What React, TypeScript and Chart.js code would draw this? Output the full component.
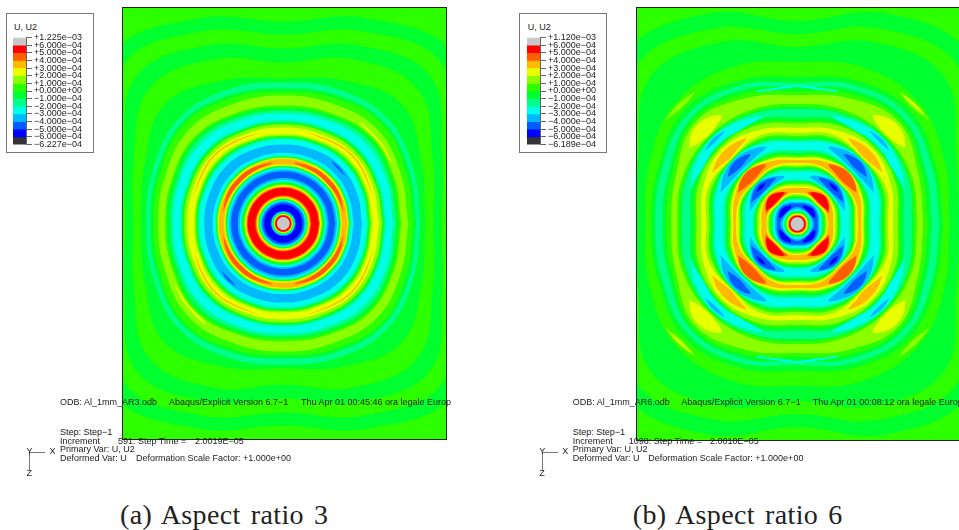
import React, { useEffect, useRef } from "react";
import { Chart, registerables } from "chart.js";

Chart.register(...registerables);

const levelColors = ["#c8c8c8", "#ff0000", "#ff5d00", "#ffb900", "#e8ff00", "#8bff00", "#2eff00", "#00ff2e", "#00ff8b", "#00ffe8", "#00b9ff", "#005dff", "#0000ff", "#333333"];
const tickLabelsA = ["+1.225e\u221203", "+6.000e\u221204", "+5.000e\u221204", "+4.000e\u221204", "+3.000e\u221204", "+2.000e\u221204", "+1.000e\u221204", "+0.000e+00", "\u22121.000e\u221204", "\u22122.000e\u221204", "\u22123.000e\u221204", "\u22124.000e\u221204", "\u22125.000e\u221204", "\u22126.000e\u221204", "\u22126.227e\u221204"];
const tickLabelsB = ["+1.120e\u221203", "+6.000e\u221204", "+5.000e\u221204", "+4.000e\u221204", "+3.000e\u221204", "+2.000e\u221204", "+1.000e\u221204", "+0.000e+00", "\u22121.000e\u221204", "\u22122.000e\u221204", "\u22123.000e\u221204", "\u22124.000e\u221204", "\u22125.000e\u221204", "\u22126.000e\u221204", "\u22126.189e\u221204"];

// contour rows: [level, radius at 0deg, 22.5deg, 45deg, 67.5deg, 90deg] (short rows are symmetric or circular)
const ringsA: number[][] = [
  [6, 400],
  [7, 172, 185, 240, 222, 202], [6, 165, 176, 225, 208, 189], [7, 158, 172, 208, 193, 175], [6, 150, 162, 190, 178, 161],
  [7, 142, 150, 168, 155, 145], [8, 137, 141, 148, 145, 141], [7, 133, 136.5, 143, 139, 135], [6, 130, 133, 140, 135.5, 132],
  [5, 125, 127.5, 133, 129.5, 128], [6, 118, 120, 124, 120, 118], [7, 116, 118, 122, 118, 115], [8, 113, 115, 119, 115, 113],
  [9, 110, 112, 115, 112, 110], [8, 103, 104, 106.5], [7, 101, 102, 104.5], [6, 100, 101, 103], [5, 99, 100, 102],
  [4, 96, 97, 99], [5, 89, 90, 92], [6, 87.5, 88.5, 90], [7, 86.5, 87.3, 88.5], [8, 85.5, 86.2, 87.3], [9, 84, 84.7, 85.8],
  [10, 79, 79.7, 81], [9, 70.5, 70.8, 71.5], [8, 67.5, 67.8, 68.5], [7, 66.8, 67, 67.6], [6, 66.3, 66.5, 67], [5, 65.8, 66, 66.4], [4, 65.2, 65.4, 65.8], [3, 64.5],
  [4, 59], [5, 58], [6, 57.5], [7, 57], [8, 56.5], [9, 55.5], [10, 54], [11, 52], [10, 45.5], [9, 43.5], [8, 42], [7, 41], [6, 40], [5, 39], [4, 38],
  [3, 37], [2, 36.5], [1, 35.5], [2, 28], [3, 27], [4, 26], [5, 25.3], [6, 24.7], [7, 24.2], [8, 23.7], [9, 23], [10, 22.2],
  [11, 21], [12, 19], [11, 12.6], [10, 12], [9, 11.3], [8, 10.8], [7, 10.4], [6, 10], [5, 9.6], [4, 9.2], [3, 8.8], [2, 8.4], [1, 8], [0, 6.4],
];
const ringsB: number[][] = [
  [6, 400],
  [7, 190, 200, 242, 228, 203], [6, 176, 186, 226, 212, 190], [7, 162, 172, 208, 197, 177], [6, 152, 160, 172, 170, 162],
  [7, 146, 150, 160, 155, 147], [8, 142, 146, 155, 150, 141], [7, 135, 139, 150, 145, 137], [6, 131, 135, 147, 141, 133],
  [5, 126, 131, 144, 136, 129], [6, 120, 124, 124.5, 123, 120], [7, 117, 121, 123, 120, 117], [8, 115, 120, 122, 119, 115],
  [7, 106.7, 112, 111], [6, 103, 108.5, 110], [5, 100.7, 106.5, 108.5], [4, 96, 101.5, 106.5], [5, 91, 96, 92.5], [6, 88, 93, 92],
  [7, 86, 91, 91.5], [8, 84, 89, 91], [9, 82, 87, 90.5], [8, 74, 77, 75.5], [7, 71, 75, 74.5], [6, 69, 73, 74], [5, 67, 71, 73.5],
  [4, 66, 70, 73], [3, 64, 68, 72.5], [4, 61, 62.5, 60], [5, 58.5, 61, 59], [6, 57, 60, 58.5], [7, 56, 59, 58], [8, 54.5, 57.5, 57.5],
  [9, 52, 55, 57], [8, 44.5, 45, 44], [7, 43, 44, 43], [6, 41.5, 43, 42.5], [5, 40, 41.5, 42], [4, 38, 40, 41], [3, 36, 38, 40.5],
  [4, 31, 31, 28.5], [5, 30, 29.5, 27.5], [6, 28, 28.5, 27], [7, 26.5, 27.5, 26.5], [8, 25.5, 26.5, 26], [9, 24, 25.5, 25.5],
  [10, 22, 23.3, 24.5], [11, 20.5, 21.7, 23], [10, 17, 16, 15.5], [9, 15, 14.5, 14.5], [8, 13, 13.3, 13.5], [7, 12, 12.5, 12.5],
  [6, 11.3, 11.7, 11.7], [5, 10.5, 11, 11], [4, 10, 10.3, 10.3], [3, 9.3, 9.6, 9.6], [2, 8.8, 9, 9], [1, 8.3, 8.4, 8.4], [0, 6.7],
];

// local patches: [level, quadrants (4 = all, 2 = upper right and lower left), angle, radius, angle, radius, ...]
const patchesA: number[][] = [
  [2, 4, 10, 61.5, 28, 63.5, 45, 64, 62, 63.5, 80, 61.5, 62, 60, 45, 59.5, 28, 60],
  [3, 4, 15, 94, 32, 96, 45, 97.5, 58, 96, 75, 94, 58, 94.5, 45, 96, 32, 94.5],
  [11, 2, 37, 78, 45, 79.5, 52, 78.5, 45, 77],
  [4, 2, 30, 125, 40, 127, 52, 127.5, 52, 126, 40, 125, 30, 124],
];
const patchesB: number[][] = [
  [5, 4, 38, 168, 45, 169, 52, 167, 45, 164],
  [4, 2, 40, 167.5, 45, 168, 51, 166.5, 45, 166],
  [9, 4, 73, 139.5, 90, 139, 90, 137.5, 73, 138],
  [4, 4, 35, 132, 40, 139, 45, 141, 50, 139, 55, 132, 50, 127, 45, 125.5, 40, 127],
  [9, 4, 18, 113, 30, 118, 45, 121, 60, 118, 72, 113, 60, 110, 45, 112, 30, 110],
  [10, 4, 38, 118, 45, 120, 52, 118, 45, 116],
  [3, 4, 31, 99.5, 38, 102.5, 45, 103.5, 52, 102.5, 59, 99.5, 52, 96, 45, 94, 38, 96],
  [10, 4, 22, 83, 34, 88.5, 45, 90, 56, 88.5, 68, 83, 56, 78.5, 45, 77.5, 34, 78.5],
  [11, 4, 34, 84, 40, 87.5, 45, 88.5, 50, 87.5, 56, 84, 50, 81, 45, 80, 40, 81],
  [2, 4, 28, 67, 36, 71, 45, 72.5, 54, 71, 62, 67, 54, 63.5, 45, 62, 36, 63.5],
  [10, 4, 15, 49, 30, 54, 45, 57, 60, 54, 75, 49, 60, 46, 45, 45.5, 30, 46],
  [11, 4, 25, 51, 35, 54, 45, 55.5, 55, 54, 65, 51, 55, 47.5, 45, 46.5, 35, 47.5],
  [12, 4, 38, 52, 45, 53.5, 52, 52, 45, 50],
  [2, 4, 18, 33, 32, 37.5, 45, 39.5, 58, 37.5, 72, 33, 58, 30.5, 45, 29.5, 32, 30.5],
  [1, 4, 23, 34, 34, 37, 45, 39, 56, 37, 67, 34, 56, 31, 45, 30.5, 34, 31],
  [12, 4, 18, 19, 30, 20.5, 45, 21.5, 60, 20.5, 72, 19, 60, 16.5, 45, 16, 30, 16.5],
];

const rad = (d: number) => (d * Math.PI) / 180;
const polar = (angle: number, r: number) => ({ x: r * Math.cos(rad(angle)), y: r * Math.sin(rad(angle)) });

function ringPoints(row: number[]) {
  const v = row.slice(1);
  const q = v.length === 1 ? [v[0], v[0], v[0], v[0], v[0]] : v.length === 3 ? [v[0], v[1], v[2], v[1], v[0]] : v;
  const radii = [...q, q[3], q[2], q[1], q[0], q[1], q[2], q[3], q[4], q[3], q[2], q[1], q[0]];
  return radii.map((r, i) => polar(i * 22.5, r));
}

function patchDatasets(row: number[]) {
  const [level, quadrants] = row;
  const pairs: number[][] = [];
  for (let i = 2; i < row.length; i += 2) pairs.push([row[i], row[i + 1]]);
  const maps = quadrants === 4
    ? [(a: number) => a, (a: number) => 180 - a, (a: number) => 180 + a, (a: number) => 360 - a]
    : [(a: number) => a, (a: number) => 180 + a];
  return maps.map((m) => {
    const pts = pairs.map(([a, r]) => polar(m(a), r));
    return shape(level, [...pts, pts[0]]);
  });
}

function shape(level: number, data: { x: number; y: number }[]) {
  return { data, backgroundColor: levelColors[level], showLine: true, tension: 0.4, capBezierPoints: false, pointRadius: 0, borderWidth: 0 };
}

const fillShape = {
  id: "fillShape",
  beforeDatasetDraw(chart: any, args: any) {
    const line = args.meta.dataset;
    const { ctx, chartArea: a } = chart;
    ctx.save();
    ctx.beginPath();
    ctx.rect(a.left, a.top, a.right - a.left, a.bottom - a.top);
    ctx.clip();
    line.updateControlPoints(a, "x");
    ctx.beginPath();
    line.path(ctx);
    ctx.closePath();
    ctx.fillStyle = chart.data.datasets[args.index].backgroundColor;
    ctx.fill();
    ctx.restore();
    return false;
  },
};

function Contour({ rings, patches, left, top, width, height, xMin, xMax, yMin, yMax }: any) {
  const ref = useRef<HTMLCanvasElement>(null);
  useEffect(() => {
    // Chart.js paints the last dataset first, so the innermost shapes come first here.
    const outsideIn = [
      ...rings.map((r: number[]) => shape(r[0], ringPoints(r))),
      ...patches.flatMap(patchDatasets),
    ];
    const chart = new Chart(ref.current!, {
      type: "scatter",
      plugins: [fillShape],
      data: { datasets: outsideIn.reverse() },
      options: {
        animation: false, responsive: false, events: [],
        layout: { padding: 0 },
        plugins: { legend: { display: false }, tooltip: { enabled: false } },
        scales: {
          x: { type: "linear", display: false, min: xMin, max: xMax },
          y: { type: "linear", display: false, min: yMin, max: yMax },
        },
      },
    } as any);
    return () => chart.destroy();
  }, []);
  return (
    <>
      <canvas ref={ref} width={width} height={height} style={{ position: "absolute", left, top, width, height }} />
      <div style={{ position: "absolute", left, top, width: width - 1, height: height - 1, border: "1px solid #222", borderRightWidth: 1 }} />
    </>
  );
}

function LegendBar({ labels, left, top }: { labels: string[]; left: number; top: number }) {
  const ref = useRef<HTMLCanvasElement>(null);
  useEffect(() => {
    const chart = new Chart(ref.current!, {
      type: "bar",
      data: {
        labels: ["U2"],
        datasets: levelColors.map((c) => ({ data: [1], backgroundColor: c, borderWidth: 0, barPercentage: 1, categoryPercentage: 1 })),
      },
      options: {
        animation: false, responsive: false, events: [],
        layout: { padding: { top: 2, bottom: 2, left: 0, right: 0 } },
        plugins: { legend: { display: false }, tooltip: { enabled: false } },
        scales: {
          x: { stacked: true, display: false },
          y: {
            stacked: true, position: "right", reverse: true, min: 0, max: 14,
            afterFit: (s: any) => { s.width = 68; },
            grid: { drawOnChartArea: false, tickLength: 6, color: "#666", tickWidth: 1 },
            border: { color: "#666" },
            ticks: {
              stepSize: 1, autoSkip: false, padding: 2, color: "#222",
              font: { family: "Liberation Sans", size: 9 },
              callback: (v: any) => labels[v],
            },
          },
        },
      },
    } as any);
    return () => chart.destroy();
  }, []);
  return <canvas ref={ref} width={81} height={122} style={{ position: "absolute", left, top, width: 81, height: 122 }} />;
}

const sans: React.CSSProperties = { position: "absolute", font: "9px/10px 'Liberation Sans'", color: "#222", whiteSpace: "pre" };

function T({ x, y, w, children }: { x: number; y: number; w?: number; children: React.ReactNode }) {
  return <div style={{ ...sans, left: x, top: y - 5, width: w, overflow: w ? "hidden" : undefined }}>{children}</div>;
}

function Panel(p: any) {
  const d = p.textX - 60;
  return (
    <>
      <Contour {...p.contour} />
      <div style={{ position: "absolute", left: p.boxX, top: 13, width: 86, height: 138, background: "#fff", border: "1px solid #777" }} />
      <T x={p.swatchX + 1} y={26.5}>U, U2</T>
      <LegendBar labels={p.labels} left={p.swatchX} top={p.legendTop} />
      <T x={p.textX} y={401.7}>{p.odb}</T>
      <T x={p.abaqusX} y={401.7}>Abaqus/Explicit Version 6.7{"\u2212"}1</T>
      <T x={p.dateX} y={401.7} w={p.dateW}>{p.date}</T>
      <T x={p.textX} y={431.7}>Step: Step{"\u2212"}1</T>
      <T x={p.textX} y={441}>Increment</T>
      <T x={p.incX} y={441}>{p.inc}</T>
      <T x={p.timeX} y={441}>{p.time}</T>
      <T x={p.textX} y={449}>Primary Var: U, U2</T>
      <T x={p.textX} y={457.7}>Deformed Var: U</T>
      <T x={p.factorX} y={457.7}>Deformation Scale Factor: +1.000e+00</T>
      <div style={{ position: "absolute", left: 29 + d * 1, top: 452, width: 16, height: 1, background: "#777" }} />
      <div style={{ position: "absolute", left: 29 + d * 1, top: 452, width: 1, height: 18, background: "#777" }} />
      <T x={26.5 + d} y={450.5}>Y</T>
      <T x={49.5 + d} y={451}>X</T>
      <T x={26.5 + d} y={472.5}>Z</T>
      <div style={{ position: "absolute", left: p.capX, top: 499, font: "28px/32px 'Liberation Serif'", color: "#222", whiteSpace: "pre", letterSpacing: 0.4, wordSpacing: 2.5 }}>{p.caption}</div>
    </>
  );
}

export default function App() {
  return (
    <div style={{ position: "absolute", left: 0, top: 0, width: 959, height: 530, overflow: "hidden", background: "#fff" }}>
      <Panel
        contour={{ rings: ringsA, patches: patchesA, left: 122, top: 7, width: 324, height: 432, xMin: -161.3, xMax: 162.7, yMin: -215.5, yMax: 216.5 }}
        boxX={6} swatchX={13} legendTop={30} labels={tickLabelsA}
        textX={60} abaqusX={169} dateX={301} dateW={150}
        odb="ODB: Al_1mm_AR3.odb" date="Thu Apr 01 00:45:46 ora legale Europa"
        incX={118} inc="591: Step Time =" timeX={195} time={"2.0019E\u221205"} factorX={136}
        capX={120} caption="(a) Aspect ratio 3"
      />
      <Panel
        contour={{ rings: ringsB, patches: patchesB, left: 636, top: 7, width: 323, height: 433, xMin: -161.3, xMax: 161.7, yMin: -216, yMax: 217 }}
        boxX={519} swatchX={526.7} legendTop={30} labels={tickLabelsB}
        textX={572.7} abaqusX={681.3} dateX={812.7} dateW={undefined}
        odb="ODB: Al_1mm_AR6.odb" date="Thu Apr 01 00:08:12 ora legale Europa"
        incX={628.7} inc="1098: Step Time =" timeX={710} time={"2.0010E\u221205"} factorX={648.3}
        capX={632.7} caption="(b) Aspect ratio 6"
      />
    </div>
  );
}
